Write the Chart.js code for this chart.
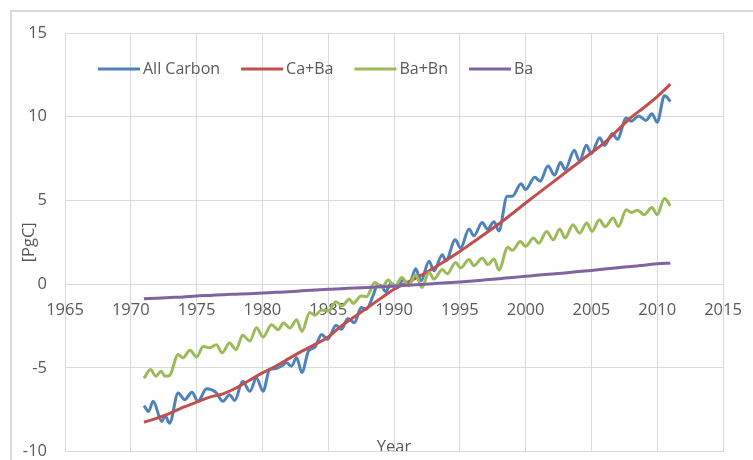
<!DOCTYPE html>
<html>
<head>
<meta charset="utf-8">
<title>Cumulative carbon</title>
<script src="https://cdn.jsdelivr.net/npm/chart.js@4/dist/chart.umd.min.js"></script>
<style>
  html, body { margin: 0; padding: 0; background: #ffffff; }
  #wrap { width: 753px; height: 460px; position: relative; }
</style>
</head>
<body>
<div id="wrap"><canvas id="chart" width="753" height="460"></canvas></div>
<script>
// ---- data (PgC) ----
const allCarbonYears = [
  1971.0, 1971.35, 1971.7, 1972.35, 1972.6, 1972.95, 1973.6, 1974.1, 1974.65, 1975.1,
  1975.75, 1976.45, 1977.0, 1977.5, 1977.9, 1978.5, 1979.05, 1979.55, 1980.05, 1980.55,
  1980.95, 1981.45, 1981.85, 1982.2, 1982.6, 1983.0, 1983.5, 1984.0, 1984.5, 1984.95,
  1985.6, 1986.0, 1986.5, 1987.0, 1987.5, 1987.9, 1988.4, 1988.75, 1989.1, 1989.35,
  1989.8, 1990.2, 1990.7, 1991.15, 1991.65, 1992.05, 1992.66, 1993.04, 1993.67, 1993.95,
  1994.65, 1995.06, 1995.7, 1996.07, 1996.7, 1997.1, 1997.6, 1997.97, 1998.6, 1999.0,
  1999.65, 2000.0, 2000.7, 2001.1, 2001.7, 2002.2, 2002.65, 2003.0, 2003.7, 2004.1,
  2004.62, 2005.0, 2005.63, 2006.0, 2006.6, 2006.97, 2007.65, 2008.03, 2008.6, 2009.15,
  2009.6, 2010.0, 2010.55, 2010.7, 2011.0
];
const allCarbonValues = [
  -7.25, -7.6, -7.0, -8.2, -7.85, -8.3, -6.5, -6.9, -6.45, -7.0,
  -6.25, -6.45, -7.0, -6.6, -6.95, -5.8, -6.4, -5.6, -6.4, -5.1,
  -5.05, -4.9, -4.7, -4.9, -4.4, -5.27, -4.0, -3.75, -3.0, -3.3,
  -2.45, -2.7, -2.05, -2.3, -1.4, -1.5, -0.7, -0.05, -0.15, -0.45,
  0.05, -0.25, 0.25, 0.0, 0.92, 0.2, 1.37, 0.8, 1.75, 1.4,
  2.65, 2.15, 3.3, 2.88, 3.68, 3.28, 3.73, 3.18, 5.25, 5.25,
  6.0, 5.65, 6.38, 6.15, 7.05, 6.5, 7.28, 6.85, 8.0, 7.35,
  8.3, 7.8, 8.75, 8.28, 9.0, 8.65, 9.92, 9.73, 10.05, 9.78,
  10.18, 9.67, 11.25, 11.2, 10.9
];

const caBaYears = [
  1971, 1972, 1973, 1974, 1975, 1976, 1977, 1978, 1979, 1980,
  1981, 1982, 1983, 1984, 1985, 1986, 1987, 1988, 1989, 1990,
  1991, 1992, 1993, 1994, 1995, 1996, 1997, 1998, 1999, 2000,
  2001, 2002, 2003, 2004, 2005, 2006, 2007, 2008, 2009, 2010, 2011
];
const caBaValues = [
  -8.25, -8.0, -7.7, -7.35, -7.05, -6.75, -6.55, -6.2, -5.75, -5.3,
  -4.9, -4.45, -4.0, -3.6, -3.15, -2.5, -1.95, -1.4, -0.85, -0.3,
  0.1, 0.5, 0.95, 1.45, 1.95, 2.5, 3.05, 3.62, 4.22, 4.85,
  5.45, 6.05, 6.65, 7.25, 7.85, 8.45, 9.2, 9.95, 10.55, 11.2, 11.95
];

const baBnYears = [
  1971.0, 1971.5, 1971.9, 1972.3, 1972.6, 1972.95, 1973.6, 1973.95, 1974.5, 1975.0,
  1975.5, 1976.0, 1976.5, 1976.95, 1977.5, 1978.0, 1978.5, 1979.05, 1979.55, 1980.05,
  1980.7, 1981.2, 1981.6, 1982.1, 1982.6, 1983.0, 1983.6, 1984.0, 1984.5, 1985.0,
  1985.6, 1986.05, 1986.6, 1986.9, 1987.5, 1987.9, 1988.55, 1989.1, 1989.55, 1990.05,
  1990.6, 1991.1, 1991.65, 1992.12, 1992.66, 1993.04, 1993.67, 1994.05, 1994.68, 1995.06,
  1995.7, 1996.07, 1996.7, 1997.14, 1997.6, 1997.97, 1998.65, 1998.99, 1999.6, 2000.0,
  2000.6, 2001.0, 2001.6, 2002.1, 2002.6, 2003.0, 2003.6, 2004.1, 2004.65, 2005.05,
  2005.6, 2006.05, 2006.65, 2007.05, 2007.65, 2008.05, 2008.5, 2009.0, 2009.6, 2010.0,
  2010.55, 2011.0
];
const baBnValues = [
  -5.62, -5.1, -5.5, -5.2, -5.5, -5.45, -4.2, -4.4, -3.95, -4.35,
  -3.72, -3.8, -3.62, -4.1, -3.52, -3.9, -3.05, -3.4, -2.6, -3.15,
  -2.42, -2.72, -2.32, -2.62, -2.12, -2.82, -1.7, -1.85, -1.55, -1.6,
  -1.05, -1.3, -0.9, -1.15, -0.7, -0.75, 0.1, -0.2, 0.25, -0.14,
  0.4, -0.08, 0.56, -0.2, 0.7, 0.3, 0.87, 0.62, 1.3, 0.97,
  1.47, 1.1, 1.55, 1.17, 1.5, 0.85, 2.2, 2.02, 2.55, 2.25,
  2.75, 2.45, 3.15, 2.65, 3.3, 2.75, 3.55, 3.05, 3.65, 3.15,
  3.85, 3.44, 3.95, 3.44, 4.45, 4.28, 4.42, 4.15, 4.58, 4.15,
  5.12, 4.68
];

const baYears = caBaYears;
const baValues = [
  -0.87, -0.84, -0.8, -0.76, -0.7, -0.67, -0.63, -0.6, -0.57, -0.53,
  -0.49, -0.45, -0.4, -0.35, -0.3, -0.27, -0.23, -0.2, -0.16, -0.12,
  -0.07, -0.02, 0.03, 0.08, 0.13, 0.19, 0.26, 0.33, 0.4, 0.47,
  0.54, 0.6, 0.67, 0.75, 0.82, 0.9, 0.98, 1.06, 1.13, 1.22, 1.25
];

const yearTicks = [1965, 1970, 1975, 1980, 1985, 1990, 1995, 2000, 2005, 2010, 2015];
const valueTicks = [-10, -5, 0, 5, 10, 15];

// ---- styling ----
const TEXT = '#595959';
const GRID = '#d9d9d9';
const FONT = 'Open Sans';

const toPoints = (xs, ys) => xs.map((x, i) => ({ x: x, y: ys[i] }));

// Tick labels may overhang the plot area; keep them from shrinking it
const noOverhang = s => {
  s.paddingTop = 0; s.paddingBottom = 0; s.paddingLeft = 0; s.paddingRight = 0;
};

// Outer frame of the chart object
const framePlugin = {
  id: 'frame',
  beforeDraw(chart) {
    const ctx = chart.ctx;
    ctx.save();
    ctx.fillStyle = '#ffffff';
    ctx.fillRect(0, 0, chart.width, chart.height);
    ctx.strokeStyle = '#d0d0d0';
    ctx.lineWidth = 1.5;
    ctx.strokeRect(11, 11, chart.width + 20, chart.height + 20);
    ctx.restore();
  }
};

// Single-row legend sitting inside the plot area
const inlineLegend = {
  id: 'inlineLegend',
  afterDatasetsDraw(chart, args, opts) {
    const ctx = chart.ctx;
    ctx.save();
    ctx.font = opts.fontSize + 'px "' + FONT + '"';
    ctx.textBaseline = 'middle';
    ctx.textAlign = 'left';
    let x = opts.x;
    const y = opts.y;
    chart.data.datasets.forEach(ds => {
      ctx.strokeStyle = ds.borderColor;
      ctx.lineWidth = 3;
      ctx.lineCap = 'butt';
      ctx.beginPath();
      ctx.moveTo(x, y);
      ctx.lineTo(x + opts.lineLength, y);
      ctx.stroke();
      const tx = x + opts.lineLength + opts.gap;
      ctx.fillStyle = TEXT;
      ctx.fillText(ds.label, tx, y);
      x = tx + ctx.measureText(ds.label).width + opts.spacing;
    });
    ctx.restore();
  }
};

const series = [
  { label: 'All Carbon', color: '#4F81BD', xs: allCarbonYears, ys: allCarbonValues, order: 4 },
  { label: 'Ca+Ba',      color: '#C0504D', xs: caBaYears,      ys: caBaValues,      order: 3 },
  { label: 'Ba+Bn',      color: '#9BBB59', xs: baBnYears,      ys: baBnValues,      order: 2 },
  { label: 'Ba',         color: '#8064A2', xs: baYears,        ys: baValues,        order: 1 }
];

new Chart(document.getElementById('chart'), {
  type: 'line',
  data: {
    datasets: series.map(s => ({
      label: s.label,
      data: toPoints(s.xs, s.ys),
      borderColor: s.color,
      backgroundColor: s.color,
      borderWidth: 3,
      pointRadius: 0,
      fill: false,
      cubicInterpolationMode: 'monotone',
      order: s.order,
      xAxisID: 'x',
      yAxisID: 'y'
    }))
  },
  options: {
    responsive: false,
    animation: false,
    devicePixelRatio: 1,
    layout: { padding: { top: 33, right: 30, left: 0, bottom: 0 } },
    plugins: {
      legend: { display: false },
      tooltip: { enabled: false },
      inlineLegend: { x: 98, y: 69, lineLength: 42, gap: 3, spacing: 21, fontSize: 16 }
    },
    scales: {
      x: {
        type: 'linear',
        position: 'bottom',
        min: yearTicks[0],
        max: yearTicks[yearTicks.length - 1],
        afterBuildTicks: s => { s.ticks = yearTicks.map(v => ({ value: v })); },
        afterFit: noOverhang,
        ticks: { display: false },
        grid: { color: GRID, lineWidth: 1, drawTicks: false },
        border: { display: false },
        title: {
          display: true,
          text: 'Year',
          color: TEXT,
          font: { family: FONT, size: 16.5 },
          padding: { top: -13.8, bottom: 2.4 }
        }
      },
      xYear: {
        type: 'linear',
        axis: 'x',
        position: { y: 0 },
        min: yearTicks[0],
        max: yearTicks[yearTicks.length - 1],
        afterBuildTicks: s => { s.ticks = yearTicks.map(v => ({ value: v })); },
        afterFit: noOverhang,
        ticks: {
          color: TEXT,
          font: { family: FONT, size: 16.5 },
          padding: 16,
          maxRotation: 0,
          autoSkip: false,
          callback: v => String(v)
        },
        grid: { display: false, drawTicks: false },
        border: { display: false }
      },
      y: {
        type: 'linear',
        position: 'left',
        min: valueTicks[0],
        max: valueTicks[valueTicks.length - 1],
        afterBuildTicks: s => { s.ticks = valueTicks.map(v => ({ value: v })); },
        afterFit: s => { s.width = 65; noOverhang(s); },
        ticks: {
          color: TEXT,
          font: { family: FONT, size: 16.5 },
          padding: 18,
          callback: v => String(v)
        },
        grid: { color: GRID, lineWidth: 1, drawTicks: false },
        border: { display: false },
        title: {
          display: true,
          text: '[PgC]',
          color: TEXT,
          font: { family: FONT, size: 16.5 },
          padding: { top: 19, bottom: 0 }
        }
      }
    }
  },
  plugins: [framePlugin, inlineLegend]
});
</script>
</body>
</html>
